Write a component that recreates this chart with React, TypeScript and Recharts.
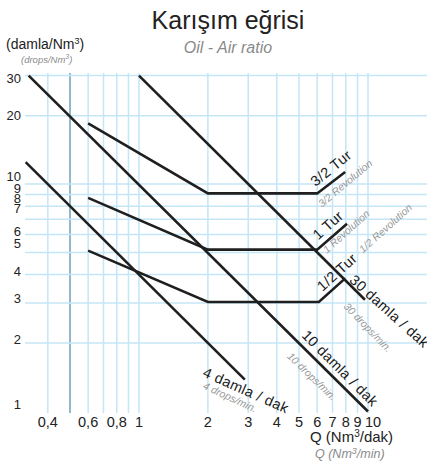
import React from 'react'
import { LineChart, Line, XAxis, YAxis, ReferenceLine, ReferenceDot } from 'recharts'

const FONT = '"Liberation Sans", Arial, sans-serif'

// grid and ticks
const xGrid = [0.4, 0.5, 0.6, 0.7, 0.8, 0.9, 1, 2, 3, 4, 5, 6, 7, 8, 9, 10]
const yGrid = [2, 3, 4, 5, 6, 7, 8, 9, 10, 20, 30]
const xTicks = [0.4, 0.6, 0.8, 1, 2, 3, 4, 5, 6, 7, 8, 9, 10]
const xTickLabels = ['0,4', '0,6', '0,8', '1', '2', '3', '4', '5', '6', '7', '8', '9', '10']
const yTicks = [1, 2, 3, 4, 5, 6, 7, 8, 9, 10, 20, 30]

// Q (Nm3/dak) -> damla/Nm3
const drops4 = [{ q: 0.32, r: 12.5 }, { q: 2.9, r: 1.38 }]
const drops10 = [{ q: 0.33, r: 30 }, { q: 10, r: 1 }]
const drops30 = [{ q: 1, r: 30 }, { q: 9.7, r: 3.1 }]
const rev15 = [{ q: 0.6, r: 18.5 }, { q: 2, r: 9.1 }, { q: 6, r: 9.1 }, { q: 7.95, r: 11.3 }]
const rev1 = [{ q: 0.6, r: 8.7 }, { q: 2, r: 5.15 }, { q: 6, r: 5.15 }, { q: 8.1, r: 6.7 }]
const rev05 = [{ q: 0.6, r: 5.1 }, { q: 2, r: 3.03 }, { q: 6.1, r: 3.03 }, { q: 7.95, r: 3.85 }]

const series = [drops4, drops10, drops30, rev15, rev1, rev05]

// curve labels: position in data units, angle, text, kind
const curveLabels = [
  { q: 6.89, r: 11.76, angle: -39, text: '3/2 Tur', main: true },
  { q: 7.94, r: 10.1, angle: -40, text: '3/2 Revolution', main: false },
  { q: 6.69, r: 6.6, angle: -42, text: '1 Tur', main: true },
  { q: 8.02, r: 6.21, angle: -42, text: '1 Revolution', main: false },
  { q: 11.9, r: 6.41, angle: -42, text: '1/2 Revolution', main: false },
  { q: 7.32, r: 4.1, angle: -42, text: '1/2 Tur', main: true },
  { q: 12.4, r: 2.76, angle: 42, text: '30 damla / dak', main: true },
  { q: 10, r: 2.35, angle: 46, text: '30 drops/min.', main: false },
  { q: 7.55, r: 1.55, angle: 45, text: '10 damla / dak', main: true },
  { q: 5.7, r: 1.43, angle: 44, text: '10 drops/min.', main: false },
  { q: 2.93, r: 1.24, angle: 24, text: '4 damla / dak', main: true },
  { q: 2.5, r: 1.16, angle: 25, text: '4 drops/min.', main: false }
]

// nudges so the stacked tick labels sit as in the original (px)
const yLabelShift: Record<number, number> = { 30: 6.5, 20: 3.5, 10: -4, 9: -2.5, 8: -4.5, 7: -7.5, 6: 0.5, 5: -5.5, 3: -1, 1: -3.5 }

const XTick = (props: any) => {
  const v = props.payload.value
  const i = xTicks.indexOf(v)
  return (
    <text x={props.x + (v === 10 ? 5 : 0)} y={427} textAnchor='middle' fontSize={14.5} fill='#222' fontFamily={FONT}>
      {xTickLabels[i]}
    </text>
  )
}

const YTick = (props: any) => {
  const v = props.payload.value
  return (
    <text x={21} y={props.y + 1 + (yLabelShift[v] || 0)} textAnchor='end' fontSize={13} fill='#222' fontFamily={FONT}>
      {v}
    </text>
  )
}

function CurveLabel({ cx, cy, angle, text, main }: any) {
  return (
    <text
      x={cx}
      y={cy}
      transform={`rotate(${angle} ${cx} ${cy})`}
      textAnchor='middle'
      dominantBaseline='central'
      fontFamily={FONT}
      fontSize={main ? 14.5 : 10.5}
      fontStyle={main ? 'normal' : 'italic'}
      fill={main ? '#1a1a1a' : '#9a9a9a'}
      letterSpacing={main ? 0.4 : 0}
    >
      {text}
    </text>
  )
}

export default function App() {
  return (
    <div style={{ position: 'absolute', left: 0, top: 0, width: 427, height: 462, background: '#fff' }}>
      <LineChart width={427} height={462} margin={{ top: 73, right: 0, bottom: 0, left: 0 }}>
        <XAxis
          dataKey='q'
          type='number'
          scale='log'
          domain={[0.318, 18.1]}
          allowDataOverflow
          ticks={xTicks}
          tick={XTick}
          axisLine={false}
          tickLine={false}
          height={49}
          interval={0}
        />
        <YAxis
          dataKey='r'
          type='number'
          scale='log'
          domain={[0.985, 30.8]}
          allowDataOverflow
          ticks={yTicks}
          tick={YTick}
          axisLine={false}
          tickLine={false}
          width={25}
          interval={0}
        />
        {xGrid.map((v) => (
          <ReferenceLine key={'x' + v} x={v} stroke={v === 0.5 ? '#93b8c8' : '#c4e6f6'} strokeWidth={v === 0.5 ? 2 : 1.5} />
        ))}
        {yGrid.map((v) => (
          <ReferenceLine key={'y' + v} y={v} stroke='#c4e6f6' strokeWidth={1.5} />
        ))}
        {series.map((d, i) => (
          <Line
            key={i}
            data={d}
            dataKey='r'
            stroke='#1f1f1f'
            strokeWidth={2.6}
            dot={false}
            activeDot={false}
            isAnimationActive={false}
            type='linear'
          />
        ))}
        {curveLabels.map((l, i) => (
          <ReferenceDot
            key={'l' + i}
            x={l.q}
            y={l.r}
            r={0}
            ifOverflow='visible'
            shape={(p: any) => <CurveLabel cx={p.cx} cy={p.cy} angle={l.angle} text={l.text} main={l.main} />}
          />
        ))}
      </LineChart>
      <svg width={427} height={462} style={{ position: 'absolute', left: 0, top: 0, pointerEvents: 'none' }}>
        <text x={228} y={29} textAnchor='middle' fontSize={25} fill='#222' fontFamily={FONT}>
          Karışım eğrisi
        </text>
        <text x={228} y={53} textAnchor='middle' fontSize={16} fontStyle='italic' fill='#8a8a8a' fontFamily={FONT}>
          Oil - Air ratio
        </text>
        <text x={6} y={49} fontSize={14} fill='#222' fontFamily={FONT}>
          (damla/Nm<tspan fontSize={9} dy={-5}>3</tspan>
          <tspan dy={5}>)</tspan>
        </text>
        <text x={21} y={63} fontSize={9.5} fontStyle='italic' fill='#8a8a8a' fontFamily={FONT}>
          (drops/Nm<tspan fontSize={7} dy={-4}>3</tspan>
          <tspan dy={4}>)</tspan>
        </text>
        <text x={310} y={442} fontSize={15} fill='#222' fontFamily={FONT}>
          Q (Nm<tspan fontSize={10} dy={-5}>3</tspan>
          <tspan dy={5}>/dak)</tspan>
        </text>
        <text x={315} y={458} fontSize={12.5} fontStyle='italic' fill='#8a8a8a' fontFamily={FONT}>
          Q (Nm<tspan fontSize={9} dy={-4}>3</tspan>
          <tspan dy={4}>/min)</tspan>
        </text>
      </svg>
    </div>
  )
}
